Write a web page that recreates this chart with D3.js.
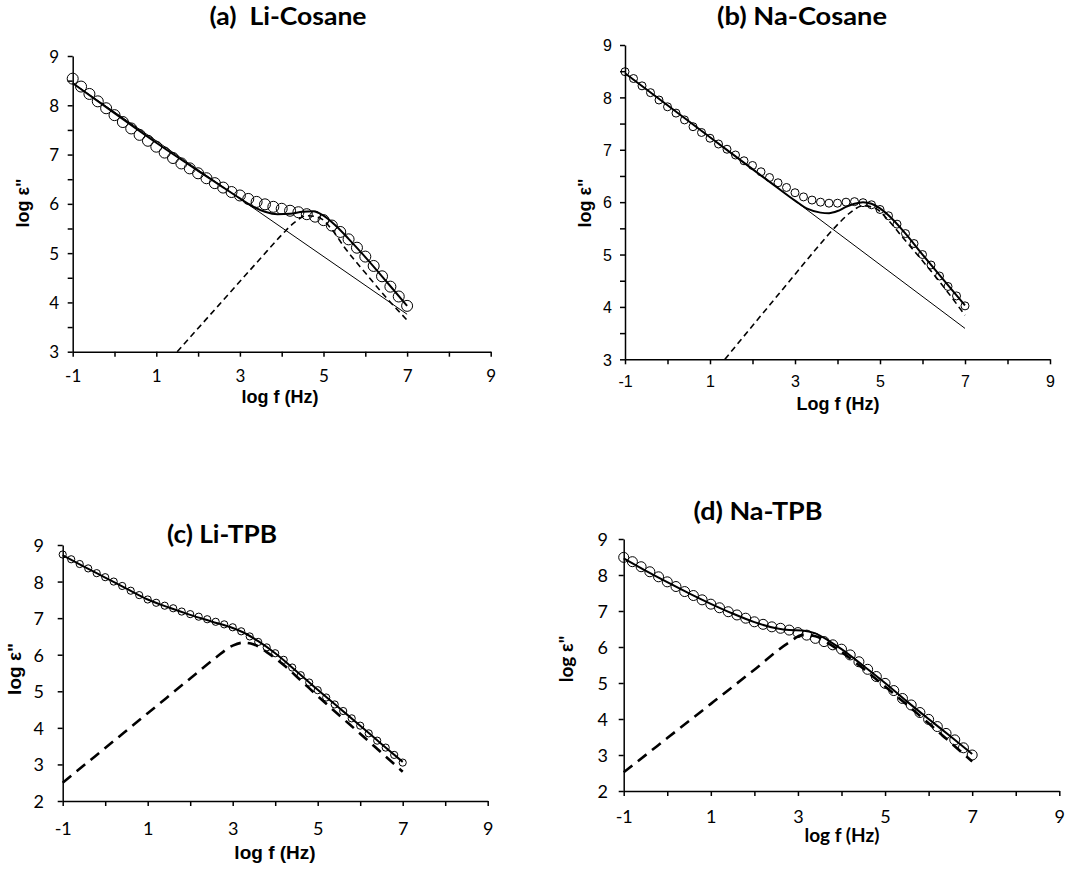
<!DOCTYPE html>
<html>
<head>
<meta charset="utf-8">
<script src="https://cdn.jsdelivr.net/npm/d3@7"></script>
<style>
  html, body { margin: 0; padding: 0; background: #fff; }
  svg { display: block; }
</style>
</head>
<body>
<script>
// Frequency grid shared by all four measurements (log10 of f in Hz)
const logFreq = [-1, -0.8, -0.6, -0.4, -0.2, 0, 0.2, 0.4, 0.6, 0.8, 1, 1.2, 1.4, 1.6, 1.8, 2,
  2.2, 2.4, 2.6, 2.8, 3, 3.2, 3.4, 3.6, 3.8, 4, 4.2, 4.4, 4.6, 4.8, 5, 5.2, 5.4, 5.6, 5.8, 6,
  6.2, 6.4, 6.6, 6.8, 7];

// Measured log ε'' (open circles)
const epsLiCosane = [8.54, 8.38, 8.23, 8.08, 7.94, 7.80, 7.66, 7.53, 7.40, 7.28, 7.16, 7.04, 6.93,
  6.82, 6.72, 6.62, 6.52, 6.42, 6.33, 6.24, 6.17, 6.10, 6.04, 5.99, 5.94, 5.90, 5.86, 5.83, 5.79,
  5.74, 5.67, 5.56, 5.43, 5.28, 5.11, 4.93, 4.74, 4.53, 4.32, 4.12, 3.93];
const epsNaCosane = [8.49, 8.36, 8.22, 8.09, 7.95, 7.82, 7.70, 7.57, 7.44, 7.33, 7.22, 7.11, 7.01,
  6.90, 6.79, 6.70, 6.58, 6.47, 6.37, 6.28, 6.18, 6.10, 6.04, 6.00, 5.98, 5.98, 6.00, 6.01, 5.99,
  5.95, 5.86, 5.74, 5.58, 5.40, 5.21, 5.00, 4.80, 4.59, 4.39, 4.21, 4.02];
const epsLiTPB = [8.74, 8.61, 8.48, 8.36, 8.23, 8.12, 8.00, 7.88, 7.75, 7.63, 7.51, 7.42, 7.34,
  7.27, 7.18, 7.11, 7.04, 6.97, 6.90, 6.83, 6.75, 6.64, 6.50, 6.35, 6.20, 6.04, 5.86, 5.65, 5.44,
  5.24, 5.03, 4.83, 4.64, 4.46, 4.26, 4.06, 3.85, 3.65, 3.46, 3.26, 3.05];
const epsNaTPB = [8.49, 8.37, 8.23, 8.09, 7.95, 7.81, 7.68, 7.54, 7.43, 7.31, 7.19, 7.09, 6.98,
  6.89, 6.80, 6.70, 6.63, 6.56, 6.52, 6.47, 6.40, 6.33, 6.24, 6.15, 6.06, 5.94, 5.78, 5.59, 5.38,
  5.18, 4.99, 4.79, 4.57, 4.39, 4.18, 3.99, 3.79, 3.60, 3.42, 3.20, 3.00];

// Conduction contribution (thin straight line)
const condX = [-1, 7];
const condLiCosane = [8.45, 3.76];
const condNaCosane = [8.46, 3.59];

// Overall fit (thick solid line)
const fitXLiCosane = [-1, 0, 1, 2, 2.5, 3, 3.3, 3.6, 3.9, 4.2, 4.5, 4.75, 5, 5.3, 5.6, 6, 6.5, 7];
const fitYLiCosane = [8.45, 7.84, 7.24, 6.67, 6.39, 6.11, 5.95, 5.84, 5.79, 5.80, 5.84, 5.85, 5.76,
  5.55, 5.29, 4.92, 4.43, 3.93];
const fitXNaCosane = [-1, 0, 1, 2, 2.5, 3, 3.3, 3.6, 3.8, 4, 4.2, 4.4, 4.6, 4.8, 5, 5.3, 5.6, 6, 6.5, 7];
const fitYNaCosane = [8.46, 7.85, 7.24, 6.63, 6.33, 6.03, 5.87, 5.80, 5.79, 5.83, 5.91, 5.97, 6.00,
  5.97, 5.88, 5.67, 5.40, 5.00, 4.51, 4.03];
const fitXLiTPB = [-1, -0.5, 0, 0.5, 1, 1.5, 2, 2.5, 3, 3.3, 3.6, 4, 4.5, 5, 5.5, 6, 6.5, 7];
const fitYLiTPB = [8.72, 8.41, 8.11, 7.81, 7.51, 7.29, 7.09, 6.91, 6.73, 6.58, 6.37, 6.04, 5.55,
  5.04, 4.55, 4.06, 3.56, 3.07];
const fitXNaTPB = [-1, -0.5, 0, 0.5, 1, 1.5, 2, 2.5, 2.8, 3.1, 3.4, 3.7, 4, 4.5, 5, 5.5, 6, 6.5, 7];
const fitYNaTPB = [8.46, 8.12, 7.80, 7.49, 7.20, 6.93, 6.69, 6.52, 6.47, 6.46, 6.38, 6.18, 5.94,
  5.48, 5.00, 4.49, 4.00, 3.52, 3.03];

// Relaxation peak contribution (dashed line)
const peakXLiCosane = [1.5, 2.5, 3.5, 4, 4.3, 4.6, 4.9, 5.2, 5.5, 6, 6.5, 7];
const peakYLiCosane = [3.0, 3.95, 4.90, 5.37, 5.62, 5.76, 5.72, 5.48, 5.12, 4.60, 4.10, 3.64];
const peakXNaCosane = [1.35, 2, 2.5, 3, 3.5, 4, 4.3, 4.6, 4.9, 5.2, 5.5, 6, 6.5, 7];
const peakYNaCosane = [3.0, 3.64, 4.13, 4.62, 5.11, 5.57, 5.80, 5.93, 5.88, 5.65, 5.36, 4.88, 4.38, 3.84];
const peakXLiTPB = [-1, 0, 1, 2, 2.6, 3, 3.25, 3.5, 3.8, 4.2, 4.6, 5, 5.5, 6, 6.5, 7];
const peakYLiTPB = [2.5, 3.45, 4.40, 5.35, 5.92, 6.25, 6.33, 6.28, 6.07, 5.72, 5.30, 4.87, 4.35,
  3.84, 3.32, 2.80];
const peakXNaTPB = [-1, 0, 1, 2, 2.8, 3.1, 3.4, 3.7, 4, 4.5, 5, 5.5, 6, 6.5, 7];
const peakYNaTPB = [2.52, 3.47, 4.42, 5.37, 6.13, 6.33, 6.30, 6.10, 5.86, 5.40, 4.90, 4.40, 3.88,
  3.35, 2.82];

// Axis ticks
const xTickValues = [-1, 0, 1, 2, 3, 4, 5, 6, 7, 8, 9];
const xTickLabels = [-1, 1, 3, 5, 7, 9];
const yTicksCosane = [3, 3.5, 4, 4.5, 5, 5.5, 6, 6.5, 7, 7.5, 8, 8.5, 9];
const yLabelsCosane = [3, 4, 5, 6, 7, 8, 9];
const yTicksTPB = [2, 3, 4, 5, 6, 7, 8, 9];
const yLabelsTPB = [2, 3, 4, 5, 6, 7, 8, 9];

const zip = (xs, ys) => xs.map((x, i) => [x, ys[i]]);

const CAL = "Lato, 'Open Sans', sans-serif";
const ARIAL = "'Liberation Sans', Arial, sans-serif";

const panels = [
  {
    title: "(a)  Li-Cosane", titlePos: [288, 25], titleLen: 157, titleSize: 25,
    box: { left: 72.7, right: 490.7, top: 56, bottom: 351.7 },
    yDomain: [3, 9], yTicks: yTicksCosane, yLabels: yLabelsCosane,
    eps: epsLiCosane, radius: 5.5,
    cond: zip(condX, condLiCosane),
    fit: zip(fitXLiCosane, fitYLiCosane),
    peak: zip(peakXLiCosane, peakYLiCosane),
    dash: "6,4", dashWidth: 1.6,
    tickFont: CAL, tickSize: 17, xLabelBase: 382, yLabelRight: 59,
    xTitle: "log f (Hz)", xTitlePos: [280, 403],
    yTitlePos: [29, 203], axisTitleFont: ARIAL, axisTitleSize: 18
  },
  {
    title: "(b) Na-Cosane", titlePos: [802, 25], titleLen: 170, titleSize: 25,
    box: { left: 625, right: 1050, top: 45, bottom: 359.3 },
    yDomain: [3, 9], yTicks: yTicksCosane, yLabels: yLabelsCosane,
    eps: epsNaCosane, radius: 4,
    cond: zip(condX, condNaCosane),
    fit: zip(fitXNaCosane, fitYNaCosane),
    peak: zip(peakXNaCosane, peakYNaCosane),
    dash: "6,4", dashWidth: 1.6,
    tickFont: ARIAL, tickSize: 16, xLabelBase: 387, yLabelRight: 612,
    xTitle: "Log f (Hz)", xTitlePos: [838, 410],
    yTitlePos: [591, 203], axisTitleFont: ARIAL, axisTitleSize: 18
  },
  {
    title: "(c) Li-TPB", titlePos: [222, 543], titleLen: 110, titleSize: 24,
    box: { left: 62.7, right: 487.7, top: 545, bottom: 801 },
    yDomain: [2, 9], yTicks: yTicksTPB, yLabels: yLabelsTPB,
    eps: epsLiTPB, radius: 3.6,
    cond: null,
    fit: zip(fitXLiTPB, fitYLiTPB),
    peak: zip(peakXLiTPB, peakYLiTPB),
    dash: "11,7", dashWidth: 2.6,
    tickFont: CAL, tickSize: 18, xLabelBase: 835, yLabelRight: 44,
    xTitle: "log f (Hz)", xTitlePos: [275, 859],
    yTitlePos: [21, 669], axisTitleFont: ARIAL, axisTitleSize: 19
  },
  {
    title: "(d) Na-TPB", titlePos: [758, 520], titleLen: 129, titleSize: 24,
    box: { left: 623.7, right: 1059.3, top: 539, bottom: 791 },
    yDomain: [2, 9], yTicks: yTicksTPB, yLabels: yLabelsTPB,
    eps: epsNaTPB, radius: 5,
    cond: null,
    fit: zip(fitXNaTPB, fitYNaTPB),
    peak: zip(peakXNaTPB, peakYNaTPB),
    dash: "11,7", dashWidth: 2.6,
    tickFont: CAL, tickSize: 18, xLabelBase: 823, yLabelRight: 608,
    xTitle: "log f (Hz)", xTitlePos: [842, 842],
    yTitlePos: [573, 659], axisTitleFont: CAL, axisTitleSize: 19
  }
];

const svg = d3.select("body").append("svg")
  .attr("width", 1085).attr("height", 874)
  .style("background", "#fff");

panels.forEach(p => {
  const x = d3.scaleLinear().domain([-1, 9]).range([p.box.left, p.box.right]);
  const y = d3.scaleLinear().domain(p.yDomain).range([p.box.bottom, p.box.top]);
  const g = svg.append("g");

  // x axis
  const xAxis = d3.axisBottom(x)
    .tickValues(xTickValues)
    .tickSize(5).tickSizeOuter(0)
    .tickFormat(d => xTickLabels.includes(d) ? String(d) : "");
  const gx = g.append("g").attr("transform", `translate(0,${p.box.bottom})`).call(xAxis);
  gx.select(".domain").attr("stroke", "#000").attr("stroke-width", 1.5);
  gx.selectAll(".tick line").attr("stroke", "#000").attr("stroke-width", 1.5);
  gx.selectAll(".tick text")
    .attr("y", p.xLabelBase - p.box.bottom).attr("dy", null)
    .attr("fill", "#000")
    .style("font-family", p.tickFont).style("font-size", p.tickSize + "px");

  // y axis
  const yAxis = d3.axisLeft(y)
    .tickValues(p.yTicks)
    .tickSize(5).tickSizeOuter(0)
    .tickFormat(d => p.yLabels.includes(d) ? String(d) : "");
  const gy = g.append("g").attr("transform", `translate(${p.box.left},0)`).call(yAxis);
  gy.select(".domain").attr("stroke", "#000").attr("stroke-width", 1.5);
  gy.selectAll(".tick line").attr("stroke", "#000").attr("stroke-width", 1.5);
  gy.selectAll(".tick text")
    .attr("x", p.yLabelRight - p.box.left).attr("dy", "0.36em")
    .attr("fill", "#000")
    .style("font-family", p.tickFont).style("font-size", p.tickSize + "px");

  const line = d3.line().x(d => x(d[0])).y(d => y(d[1]));
  const smooth = d3.line().x(d => x(d[0])).y(d => y(d[1])).curve(d3.curveMonotoneX);

  // conduction line
  if (p.cond) {
    g.append("path").attr("d", line(p.cond))
      .attr("fill", "none").attr("stroke", "#000").attr("stroke-width", 1);
  }
  // relaxation peak
  g.append("path").attr("d", smooth(p.peak))
    .attr("fill", "none").attr("stroke", "#000")
    .attr("stroke-width", p.dashWidth).attr("stroke-dasharray", p.dash);
  // overall fit
  g.append("path").attr("d", smooth(p.fit))
    .attr("fill", "none").attr("stroke", "#000").attr("stroke-width", 2);

  // measured points
  g.append("g").selectAll("circle")
    .data(logFreq.map((f, i) => [f, p.eps[i]]))
    .join("circle")
    .attr("cx", d => x(d[0])).attr("cy", d => y(d[1]))
    .attr("r", p.radius)
    .attr("fill", "none").attr("stroke", "#000").attr("stroke-width", 1);

  // panel title
  svg.append("text")
    .attr("x", p.titlePos[0]).attr("y", p.titlePos[1])
    .attr("text-anchor", "middle")
    .attr("textLength", p.titleLen).attr("lengthAdjust", "spacingAndGlyphs")
    .style("white-space", "pre")
    .style("font-family", CAL).style("font-weight", "bold")
    .style("font-size", p.titleSize + "px")
    .text(p.title);

  // axis titles
  svg.append("text")
    .attr("x", p.xTitlePos[0]).attr("y", p.xTitlePos[1])
    .attr("text-anchor", "middle")
    .style("font-family", p.axisTitleFont).style("font-weight", "bold")
    .style("font-size", p.axisTitleSize + "px")
    .text(p.xTitle);
  svg.append("text")
    .attr("transform", `translate(${p.yTitlePos[0]},${p.yTitlePos[1]}) rotate(-90)`)
    .attr("text-anchor", "middle")
    .style("font-family", p.axisTitleFont).style("font-weight", "bold")
    .style("font-size", p.axisTitleSize + "px")
    .text("log \u03B5\"");
});
</script>
</body>
</html>
